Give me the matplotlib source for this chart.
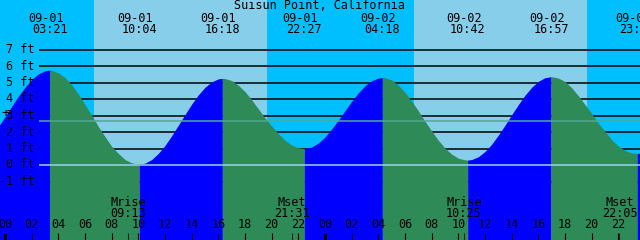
import numpy as np
import matplotlib
matplotlib.use('Agg')
import matplotlib.pyplot as plt

# ---- data ----
station = "Suisun Point, California"

# tide height (ft) every half hour, hour 0 = 09-01 00:00
step_start = -1.0
step = 0.5
tide_ft = [1.79, 2.32, 2.92, 3.55, 4.16, 4.71, 5.18, 5.52, 5.71, 5.74,
           5.58, 5.30, 4.86, 4.31, 3.65, 3.02, 2.33, 1.72, 1.13, 0.70,
           0.33, 0.13, 0.05, 0.11, 0.33, 0.70, 1.19, 1.77, 2.41, 3.06,
           3.69, 4.25, 4.71, 5.04, 5.22, 5.24, 5.12, 4.83, 4.45, 3.95,
           3.40, 2.86, 2.36, 1.90, 1.50, 1.21, 1.04, 1.00, 1.09, 1.33,
           1.70, 2.18, 2.72, 3.29, 3.86, 4.37, 4.80, 5.11, 5.27, 5.29,
           5.15, 4.84, 4.40, 3.86, 3.28, 2.65, 2.06, 1.50, 1.02, 0.66,
           0.41, 0.31, 0.33, 0.50, 0.82, 1.26, 1.81, 2.41, 3.05, 3.66,
           4.23, 4.71, 5.07, 5.29, 5.35, 5.27, 5.06, 4.68, 4.20, 3.66,
           3.12, 2.53, 2.04, 1.53, 1.15, 0.88, 0.73, 0.70, 0.75]

# high / low tides
ext_dates = ["08-31", "09-01", "09-01", "09-01", "09-01", "09-02", "09-02", "09-02", "09-02"]
ext_times = ["21:18", "03:21", "10:04", "16:18", "22:27", "04:18", "10:42", "16:57", "23:25"]
ext_ft = [0.9, 5.75, 0.05, 5.25, 1.0, 5.3, 0.3, 5.35, 0.7]

# sun (day = light sky)
sun_dates = ["09-01", "09-02"]
sunrise = ["06:40", "06:40"]
sunset = ["19:38", "19:39"]

# moon
moon_kind = ["Mrise", "Mset", "Mrise", "Mset"]
moon_dates = ["09-01", "09-01", "09-02", "09-02"]
moon_times = ["09:13", "21:31", "10:25", "22:05"]

mean_level = 2.68
ft_levels = list(range(-1, 8))

day_index = {"08-31": -1, "09-01": 0, "09-02": 1}


def to_hours(date, hhmm):
    h, m = hhmm.split(":")
    return day_index[date] * 24 + int(h) + int(m) / 60.0


# pixel helpers for layout
def xh(px):
    return (px - 5) / (40 / 3.0)


def yf(py):
    return (165 - py) / 16.5


night_c = '#00BFFF'
day_c = '#87CEEB'
flood_c = '#0000FF'
ebb_c = '#2E8B57'
font = 'DejaVu Sans Mono'
fs = 8.5

fig = plt.figure(figsize=(6.4, 2.4), dpi=100)
ax = fig.add_axes([0, 0, 1, 1])
x0, x1 = xh(0), xh(640)
y0, y1 = yf(240), yf(0)
ax.set_xlim(x0, x1)
ax.set_ylim(y0, y1)
ax.axis('off')

# sky
ax.axvspan(x0, x1, color=night_c, lw=0, zorder=0)
for date, sr, ss in zip(sun_dates, sunrise, sunset):
    ax.axvspan(to_hours(date, sr), to_hours(date, ss), color=day_c, lw=0, zorder=0)

# foot lines
ax.hlines(ft_levels, xh(39), x1, color='black', lw=1.1, zorder=1)

# tide curve
ext_h = [to_hours(d, t) for d, t in zip(ext_dates, ext_times)]
grid_h = [step_start + i * step for i in range(len(tide_ft))]
t_all = np.array(grid_h + ext_h, dtype=float)
h_all = np.array(tide_ft + ext_ft, dtype=float)
order = np.argsort(t_all)
t_all, h_all = t_all[order], h_all[order]

bounds = ext_h + [x1 + 1]
vals = ext_ft + [ext_ft[-1] + 1]
for i in range(len(bounds) - 1):
    ta, tb = bounds[i], bounds[i + 1]
    color = ebb_c if vals[i] > vals[i + 1] else flood_c
    m = (t_all >= ta) & (t_all <= tb)
    ax.fill_between(t_all[m], h_all[m], y0, color=color, lw=0, zorder=2)

ax.hlines(mean_level, xh(39), x1, color='#52A894', lw=1.1, zorder=3)
ax.hlines(0, xh(39), x1, color='#98D4EA', lw=1.1, zorder=3)

# y labels
for v in ft_levels:
    ax.text(xh(35), v, "%d ft" % v, ha='right', va='center', family=font,
            fontsize=fs, color='black', zorder=4)
ax.text(xh(5), yf(113), "+", ha='center', va='center', family=font,
        fontsize=fs + 1, color='black', zorder=4)

# title and high/low labels
ax.text(xh(319), yf(5.5), station, ha='center', va='center', family=font,
        fontsize=fs, zorder=4)
for d, t, th in zip(ext_dates, ext_times, ext_h):
    if th < x0:
        continue
    ax.text(th - 0.3, yf(18), d, ha='center', va='center', family=font,
            fontsize=fs, zorder=4)
    ax.text(th, yf(29.5), t, ha='center', va='center', family=font,
            fontsize=fs, zorder=4)

# moon labels
moon_h = [to_hours(d, t) for d, t in zip(moon_dates, moon_times)]
for k, t, mh in zip(moon_kind, moon_times, moon_h):
    ax.text(mh, yf(202.5), k, ha='center', va='center', family=font,
            fontsize=fs, zorder=4)
    ax.text(mh, yf(213.5), t, ha='center', va='center', family=font,
            fontsize=fs, zorder=4)

# hour ticks
tick_h = np.arange(0, 49, 2)
for th in tick_h:
    ax.text(th, yf(225), "%02d" % (th % 24), ha='center', va='center',
            family=font, fontsize=fs, zorder=4)
    lw = 2.2 if th % 24 == 0 else 0.8
    ax.vlines(th, y0, yf(232.5), color='black', lw=lw, zorder=4)
ax.vlines(moon_h, y0, yf(232.5), color='#222222', lw=0.8, zorder=4)

fig.savefig('out.png', dpi=100)
